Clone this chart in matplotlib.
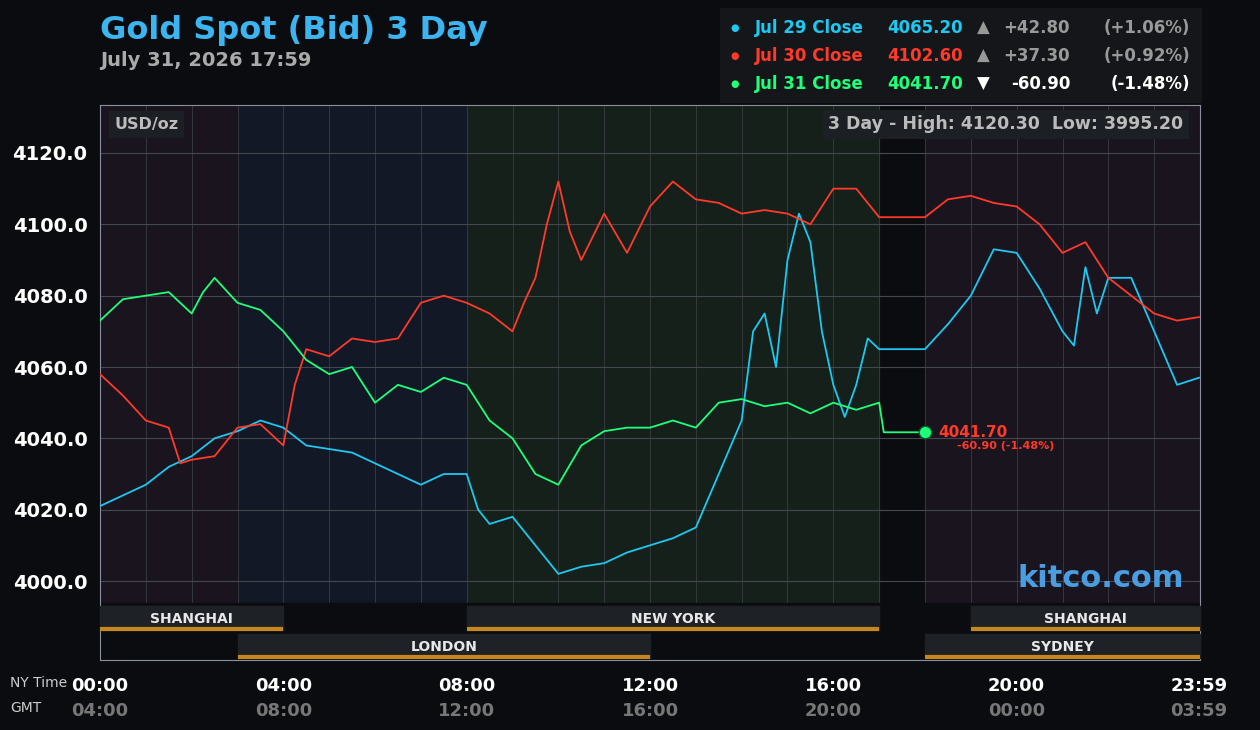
import matplotlib
matplotlib.use("Agg")
import matplotlib.pyplot as plt
import numpy as np
plt.rcParams['font.family'] = ['DejaVu Sans']

blue_t = [0,0.5,1,1.5,2,2.5,3,3.5,4,4.5,5,5.5,6,6.5,7,7.5,8,8.25,8.5,9,9.5,10,10.5,11,11.5,12,12.5,13,13.5,14,14.25,14.5,14.75,15,15.25,15.5,15.75,16,16.25,16.5,16.75,17,18,18.5,19,19.5,20,20.5,21,21.25,21.5,21.75,22,22.5,23,23.5,23.98]
blue_v = [4021,4024,4027,4032,4035,4040,4042,4045,4043,4038,4037,4036,4033,4030,4027,4030,4030,4020,4016,4018,4010,4002,4004,4005,4008,4010,4012,4015,4030,4045,4070,4075,4060,4090,4103,4095,4070,4055,4046,4055,4068,4065,4065,4072,4080,4093,4092,4082,4070,4066,4088,4075,4085,4085,4070,4055,4057]
red_t = [0,0.5,1,1.5,1.75,2,2.5,3,3.5,4,4.25,4.5,5,5.5,6,6.5,7,7.5,8,8.5,9,9.25,9.5,9.75,10,10.25,10.5,11,11.5,12,12.5,13,13.5,14,14.5,15,15.5,16,16.5,17,18,18.5,19,19.5,20,20.5,21,21.5,22,22.5,23,23.5,23.98]
red_v = [4058,4052,4045,4043,4033,4034,4035,4043,4044,4038,4055,4065,4063,4068,4067,4068,4078,4080,4078,4075,4070,4078,4085,4100,4112,4098,4090,4103,4092,4105,4112,4107,4106,4103,4104,4103,4100,4110,4110,4102,4102,4107,4108,4106,4105,4100,4092,4095,4085,4080,4075,4073,4074]
green_t = [0,0.5,1,1.5,2,2.25,2.5,3,3.5,4,4.5,5,5.5,6,6.5,7,7.5,8,8.5,9,9.5,10,10.5,11,11.5,12,12.5,13,13.5,14,14.5,15,15.5,16,16.5,17,17.1,18]
green_v = [4073,4079,4080,4081,4075,4081,4085,4078,4076,4070,4062,4058,4060,4050,4055,4053,4057,4055,4045,4040,4030,4027,4038,4042,4043,4043,4045,4043,4050,4051,4049,4050,4047,4050,4048,4050,4041.7,4041.7]
yticks = [4000,4020,4040,4060,4080,4100,4120]
ny_labels = ["00:00","04:00","08:00","12:00","16:00","20:00","23:59"]
gmt_labels = ["04:00","08:00","12:00","16:00","20:00","00:00","03:59"]
BLUE, RED, GREEN = "#1ec8f0", "#ff3a2a", "#1eff7a"

W, H = 1260, 730
fig = plt.figure(figsize=(12.6, 7.3), dpi=100, facecolor="#0b0c0f")
ax = fig.add_axes([100/W, 1-660/H, 1100/W, 555/H])
ax.set_facecolor("#0b0c0f")
ymin = 4000 - 79/3.567
ymax = 4120 + 48/3.567
ax.set_xlim(0, 24); ax.set_ylim(ymin, ymax)
for a, b, c in [(0,3,"#1a141e"),(3,8,"#121826"),(8,17,"#16201a"),(18,24,"#1a141e")]:
    ax.axvspan(a, b, color=c, zorder=0)
for h in range(1, 24):
    ax.axvline(h, color="#3a3d44", lw=0.6, zorder=1)
for y in yticks:
    ax.axhline(y, color="#44474e", lw=0.8, zorder=1)
ax.plot(blue_t, blue_v, color=BLUE, lw=1.3, zorder=3)
ax.plot(red_t, red_v, color=RED, lw=1.3, zorder=3)
ax.plot(green_t, green_v, color=GREEN, lw=1.3, zorder=4)
ax.plot([green_t[-1]], [green_v[-1]], 'o', ms=9, color=GREEN, mec="#0a5a2a", zorder=5)
ax.text(18.3, green_v[-1], f"{green_v[-1]:.2f}", color=RED, fontsize=11, fontweight="bold", va="center", zorder=6)
ax.text(18.7, green_v[-1]-3.8, "-60.90 (-1.48%)", color=RED, fontsize=8, fontweight="bold", va="center", zorder=6)

def frac(p): return (660-p)/555
tr = ax.get_xaxis_transform()
ax.axhspan(ymin, 4000-22/3.567, color="#0b0c0f", zorder=2)
for a, b, name, row in [(0,4,"SHANGHAI",0),(8,17,"NEW YORK",0),(19,24,"SHANGHAI",0),(3,12,"LONDON",1),(18,24,"SYDNEY",1)]:
    top = 606 if row == 0 else 634
    ax.fill_between([a, b], frac(top+24), frac(top), transform=tr, color="#1e2126", zorder=3)
    ax.plot([a, b], [frac(top+23)]*2, transform=tr, color="#c8861e", lw=3, zorder=4, solid_capstyle="butt")
    ax.text((a+b)/2, frac(top+13), name, transform=tr, color="#e8e8e8", fontsize=10, fontweight="bold", ha="center", va="center", zorder=5)

ax.set_yticks(yticks)
ax.set_yticklabels([f"{v:.1f}" for v in yticks], color="white", fontsize=14, fontweight="bold")
ax.tick_params(axis="y", length=0, pad=9)
ax.set_xticks([])
for x, l in zip([0,4,8,12,16,20,23.98], ny_labels):
    ax.text(x, frac(686), l, transform=tr, color="white", fontsize=13, fontweight="bold", ha="center", va="center")
for x, l in zip([0,4,8,12,16,20,23.98], gmt_labels):
    ax.text(x, frac(711), l, transform=tr, color="#777", fontsize=13, fontweight="bold", ha="center", va="center")
fig.text(10/W, 1-683/H, "NY Time", color="#ccc", fontsize=10, va="center")
fig.text(10/W, 1-708/H, "GMT", color="#ccc", fontsize=10, va="center")
for s in ax.spines.values():
    s.set_color("#8a8fa0"); s.set_linewidth(0.8)

ax.text(0.013, 0.965, "USD/oz", transform=ax.transAxes, color="#bbb", fontsize=11.5, fontweight="bold", va="center",
        bbox=dict(facecolor="#1c1f24", edgecolor="none", pad=4))
ax.text(0.985, 0.965, "3 Day - High: 4120.30  Low: 3995.20", transform=ax.transAxes, color="#bbb", fontsize=12.5,
        fontweight="bold", va="center", ha="right", bbox=dict(facecolor="#1c1f24", edgecolor="none", pad=4))
ax.text(0.985, 0.147, "kitco.com", transform=ax.transAxes, color="#4a9ee0", fontsize=22, fontweight="bold", ha="right", va="center")

fig.text(100/W, 1-30/H, "Gold Spot (Bid) 3 Day", color="#3cb4f0", fontsize=23, fontweight="bold", va="center")
fig.text(100/W, 1-60/H, "July 31, 2026 17:59", color="#aaa", fontsize=14, fontweight="bold", va="center")

fig.patches.append(plt.Rectangle((720/W, 1-102/H), 481/W, 94/H, transform=fig.transFigure, color="#14161a", zorder=0))
rows = [("Jul 29 Close","4065.20","▲","+42.80","(+1.06%)",BLUE,"#999"),
        ("Jul 30 Close","4102.60","▲","+37.30","(+0.92%)",RED,"#999"),
        ("Jul 31 Close","4041.70","▼","-60.90","(-1.48%)",GREEN,"white")]
for i, (lab, val, arr, ch, pct, col, cc) in enumerate(rows):
    y = 1-(28+28*i)/H
    fig.text(735/W, y, "●", color=col, fontsize=7, va="center", ha="center")
    fig.text(755/W, y, lab, color=col, fontsize=12, fontweight="bold", va="center")
    fig.text(887/W, y, val, color=col, fontsize=12, fontweight="bold", va="center")
    fig.text(983/W, y, arr, color=cc, fontsize=12, va="center", ha="center")
    fig.text(1070/W, y, ch, color=cc, fontsize=12, fontweight="bold", va="center", ha="right")
    fig.text(1190/W, y, pct, color=cc, fontsize=12, fontweight="bold", va="center", ha="right")

fig.savefig("out.png", dpi=100, facecolor=fig.get_facecolor())
